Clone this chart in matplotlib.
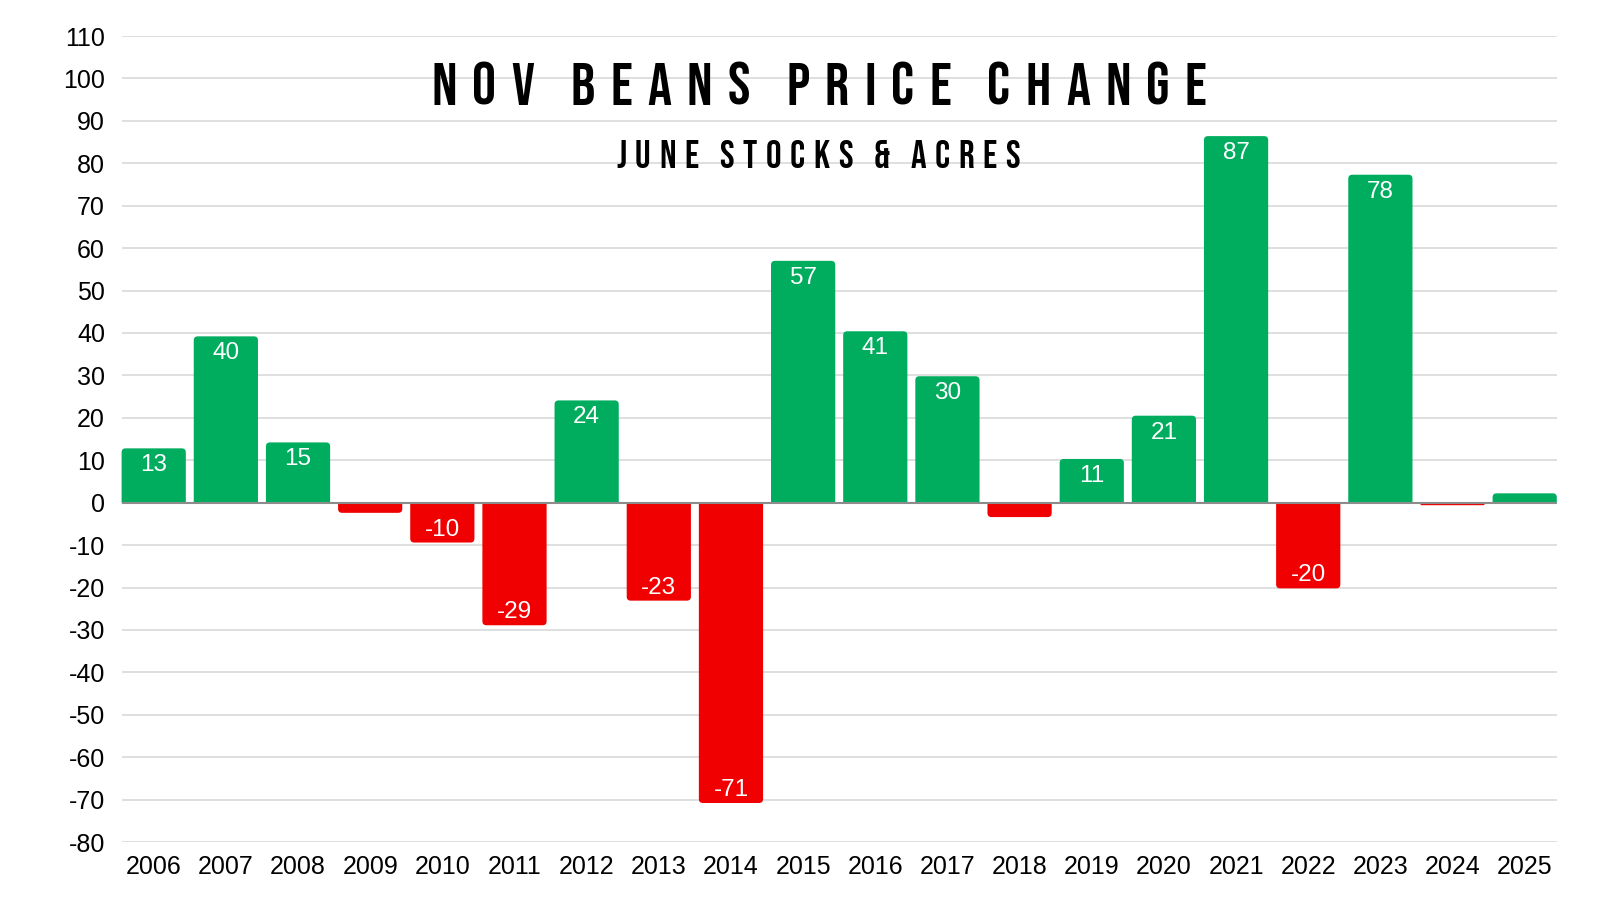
import matplotlib.pyplot as plt
from matplotlib.patches import FancyBboxPatch, Rectangle

# Chart data
years = [str(y) for y in range(2006, 2026)]
changes = [12.8, 39.2, 14.2, -2.4, -9.4, -28.9, 24.1, -23.1, -70.8, 57.0,
           40.4, 29.8, -3.4, 10.3, 20.5, 86.4, -20.2, 77.3, -0.6, 2.2]
# labels shown on the bars (tiny bars have none)
bar_labels = ['13', '40', '15', '', '-10', '-29', '24', '-23', '-71', '57',
              '41', '30', '', '11', '21', '87', '-20', '78', '', '']
y_ticks = list(range(-80, 111, 10))

title_text = 'NOV BEANS PRICE CHANGE'
subtitle_text = 'JUNE STOCKS & ACRES'

green = '#00AD5F'
red = '#F00000'

plt.rcParams['font.family'] = ['Liberation Sans', 'DejaVu Sans']
plt.rcParams['axes.unicode_minus'] = False
title_fonts = ['Bebas Neue', 'Oswald', 'Liberation Sans Narrow', 'DejaVu Sans']

W, H = 1600, 900
fig = plt.figure(figsize=(16, 9), dpi=100)
ax_pos = [0.076, 0.0644, 0.897, 0.8956]
ax = fig.add_axes(ax_pos)

bar_w = 0.89
n = len(years)
x = list(range(n))
x_lo, x_hi = -bar_w / 2, n - 1 + bar_w / 2

# px per data unit, used to keep the corner rounding round
px_x = ax_pos[2] * W / (x_hi - x_lo)
px_y = ax_pos[3] * H / 190
aspect = px_x / px_y

for xi, val, lab in zip(x, changes, bar_labels):
    col = green if val >= 0 else red
    h = abs(val)
    r = min(4.0 / px_x, h * px_y / px_x / 2.0)
    r_y = r * aspect
    # rounded box reaching past zero, clipped at zero so the base stays square
    y0 = -r_y if val >= 0 else val
    box = FancyBboxPatch((xi - bar_w / 2, y0), bar_w, h + r_y,
                         boxstyle=f'round,pad=0,rounding_size={r}',
                         mutation_aspect=aspect, fc=col, ec='none', zorder=3)
    ax.add_patch(box)
    clip = Rectangle((xi - bar_w, 0 if val >= 0 else -200), 2 * bar_w, 200,
                     transform=ax.transData)
    box.set_clip_path(clip)
    if lab:
        off = -17 if val >= 0 else 13
        ax.annotate(lab, (xi, val), xytext=(0, off), textcoords='offset pixels',
                    ha='center', va='center', color='white', fontsize=17.5, zorder=4)

ax.axhline(0, color='#8c8c8c', lw=1.5, zorder=4)

ax.set_xlim(x_lo, x_hi)
ax.set_ylim(-80, 110)
ax.set_yticks(y_ticks)
ax.set_xticks(x)
ax.set_xticklabels(years)
ax.tick_params(axis='both', length=0, labelsize=18, colors='black')
ax.tick_params(axis='y', pad=12)
ax.tick_params(axis='x', pad=9)
ax.grid(axis='y', color='#d9d9d9', lw=1.2, zorder=0)
for s in ax.spines.values():
    s.set_visible(False)


# letter-spaced heading: each letter placed on its own so the tracking fits
def tracked_text(text, cx, cy, width, size, word_ratio=2.4):
    rend = fig.canvas.get_renderer()
    letters = []
    for word in text.split(' '):
        letters.append([fig.text(0, cy, ch, fontsize=size, family=title_fonts,
                                 ha='left', va='center') for ch in word])
    widths = [[t.get_window_extent(rend).width for t in w] for w in letters]
    ink = sum(sum(w) for w in widths)
    n_gaps = sum(len(w) - 1 for w in widths)
    n_words = len(widths) - 1
    gap = (width - ink) / (n_gaps + word_ratio * n_words)
    xpos = cx - width / 2
    for wi, (word, ws) in enumerate(zip(letters, widths)):
        for t, w in zip(word, ws):
            t.set_x(xpos / W)
            xpos += w + gap
        xpos += gap * (word_ratio - 1)


tracked_text(title_text, 819, 0.907, 775, 43)
tracked_text(subtitle_text, 818, 0.829, 404, 28)

fig.savefig('out.png', dpi=100, facecolor='white')
